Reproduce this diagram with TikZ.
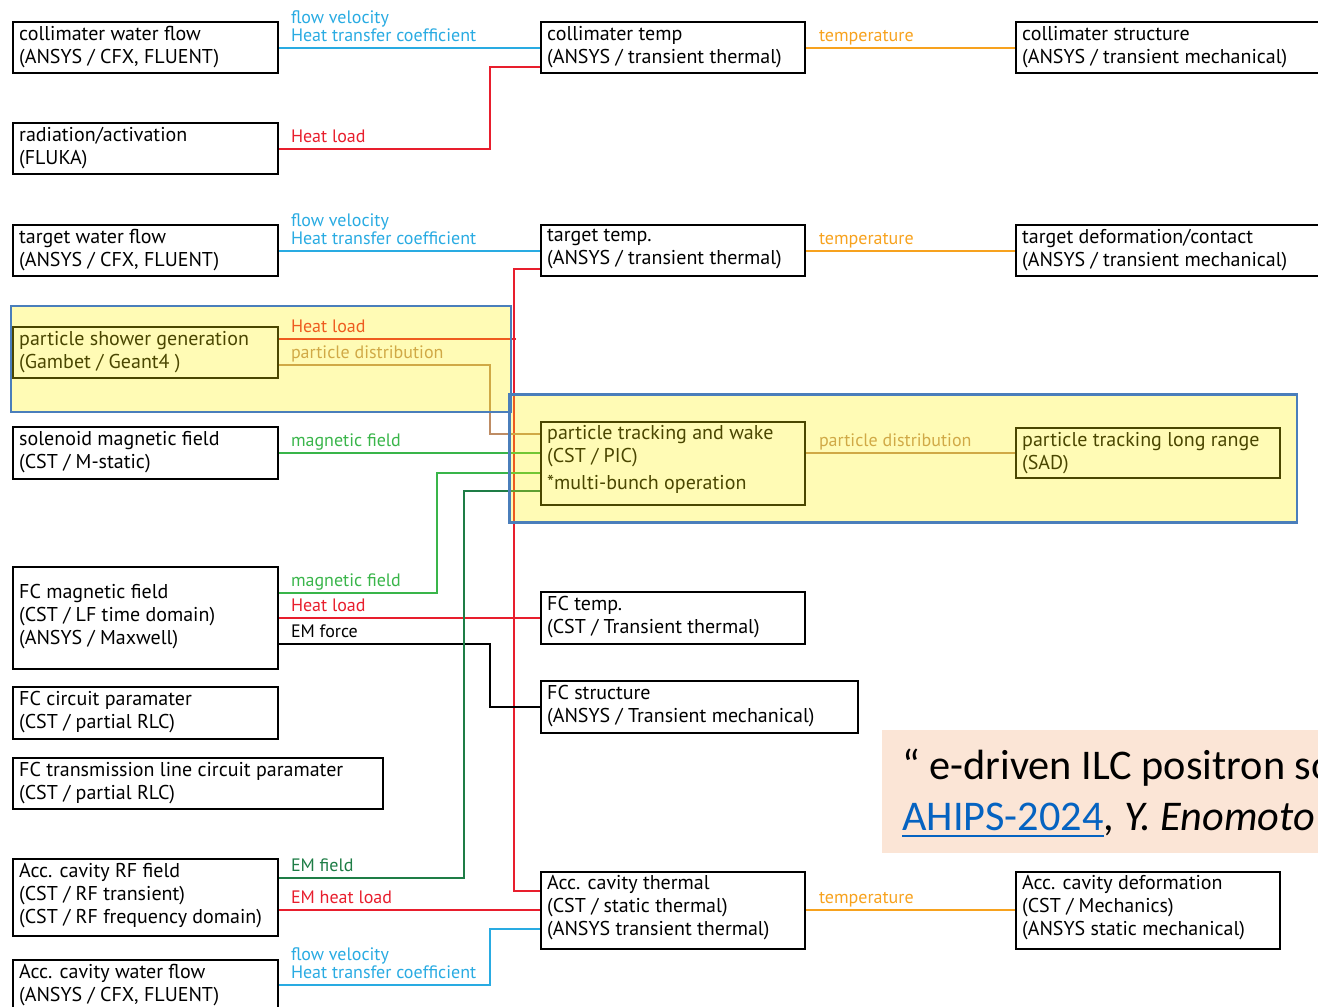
\documentclass[tikz,border=0pt]{standalone}
\usepackage{fontspec}
\setmainfont{PT Sans}
\newfontfamily\calibfont{Carlito}
\usetikzlibrary{calc}
\definecolor{cblue}{RGB}{41,171,226}
\definecolor{cred}{RGB}{232,30,45}
\definecolor{corange}{RGB}{247,162,30}
\definecolor{cgreen}{RGB}{57,181,74}
\definecolor{cdgreen}{RGB}{30,125,70}
\definecolor{cbrown}{RGB}{190,140,100}
\definecolor{cgroup}{RGB}{74,126,187}
\definecolor{cite}{RGB}{251,229,214}
\definecolor{clink}{RGB}{5,99,193}
\newcommand\bxfont{\fontsize{20}{23}\selectfont}
\newcommand\lbfont{\fontsize{18}{19}\selectfont}
\newcommand\citfont{\calibfont\fontsize{42.3}{50}\selectfont}
\begin{document}
\begin{tikzpicture}[x=1pt,y=-1pt,
  box/.style={draw=black, line width=2pt, rectangle, anchor=north west, inner sep=0pt},
  bt/.style={anchor=north west, inner sep=0pt, align=left, font=\bxfont, execute at begin node=\strut},
  conn/.style={line width=2pt},
  lb/.style={anchor=base west, inner sep=0pt, font=\lbfont, xshift=11pt, yshift=6.5pt},
  grp/.style={draw=cgroup, line width=2.4pt},
  ]
\useasboundingbox (0,0) rectangle (1318,1007);
\clip (0,0) rectangle (1318,1007);
% ---------- boxes ----------
\node[box, minimum width=265pt, minimum height=51pt] (cwf) at (12,21) {};
\node[box, minimum width=265pt, minimum height=51pt] (rad) at (12,122) {};
\node[box, minimum width=265pt, minimum height=51pt] (twf) at (12,224) {};
\node[box, minimum width=265pt, minimum height=51pt] (psg) at (12,326) {};
\node[box, minimum width=265pt, minimum height=52pt] (sol) at (12,426) {};
\node[box, minimum width=265pt, minimum height=102pt] (fcm) at (12,566) {};
\node[box, minimum width=265pt, minimum height=52pt] (fcc) at (12,686) {};
\node[box, minimum width=370pt, minimum height=51pt] (fct) at (12,757) {};
\node[box, minimum width=265pt, minimum height=77pt] (acrf) at (12,858) {};
\node[box, minimum width=265pt, minimum height=60pt] (acw) at (12,959) {};
\node[box, minimum width=264pt, minimum height=51pt] (ct) at (540,21) {};
\node[box, minimum width=264pt, minimum height=51pt] (tt) at (540,224) {};
\node[box, minimum width=264pt, minimum height=83pt] (ptw) at (540,420.5) {};
\node[box, minimum width=264pt, minimum height=52pt] (fctemp) at (540,591) {};
\node[box, minimum width=317pt, minimum height=52pt] (fcs) at (540,680) {};
\node[box, minimum width=264pt, minimum height=77pt] (act) at (540,870.5) {};
\node[box, minimum width=320pt, minimum height=51pt] (cs) at (1015,21) {};
\node[box, minimum width=320pt, minimum height=51pt] (td) at (1015,224) {};
\node[box, minimum width=264pt, minimum height=50pt] (lr) at (1015,427) {};
\node[box, minimum width=264pt, minimum height=77pt] (acd) at (1015,870.5) {};
% ---------- box texts ----------
\node[bt] (cwf-t) at ($(cwf.north west)+(7,5)$) {collimater water flow\\(ANSYS / CFX, FLUENT)};
\node[bt] (rad-t) at ($(rad.north west)+(7,5)$) {radiation/activation\\(FLUKA)};
\node[bt] (twf-t) at ($(twf.north west)+(7,5)$) {target water flow\\(ANSYS / CFX, FLUENT)};
\node[bt] (psg-t) at ($(psg.north west)+(7,5)$) {particle shower generation\\(Gambet / Geant4 )};
\node[bt] (sol-t) at ($(sol.north west)+(7,5)$) {solenoid magnetic field\\(CST / M-static)};
\node[bt] (fcm-t) at ($(fcm.north west)+(7,18)$) {FC magnetic field\\(CST / LF time domain)\\(ANSYS / Maxwell)};
\node[bt] (fcc-t) at ($(fcc.north west)+(7,5)$) {FC circuit paramater\\(CST / partial RLC)};
\node[bt] (fct-t) at ($(fct.north west)+(7,5)$) {FC transmission line circuit paramater\\(CST / partial RLC)};
\node[bt] (acrf-t) at ($(acrf.north west)+(7,5)$) {Acc. cavity RF field\\(CST / RF transient)\\(CST / RF frequency domain)};
\node[bt] (acw-t) at ($(acw.north west)+(7,5)$) {Acc. cavity water flow\\(ANSYS / CFX, FLUENT)};
\node[bt] (ct-t) at ($(ct.north west)+(7,5)$) {collimater temp\\(ANSYS / transient thermal)};
\node[bt] (tt-t) at ($(tt.north west)+(7,5)$) {target temp.\\(ANSYS / transient thermal)};
\node[bt] (ptw-t) at ($(ptw.north west)+(7,5)$) {particle tracking and wake\\(CST / PIC)\\[4pt]*multi-bunch operation};
\node[bt] (fctemp-t) at ($(fctemp.north west)+(7,5)$) {FC temp.\\(CST / Transient thermal)};
\node[bt] (fcs-t) at ($(fcs.north west)+(7,5)$) {FC structure\\(ANSYS / Transient mechanical)};
\node[bt] (act-t) at ($(act.north west)+(7,5)$) {Acc. cavity thermal\\(CST / static thermal)\\(ANSYS transient thermal)};
\node[bt] (cs-t) at ($(cs.north west)+(7,5)$) {collimater structure\\(ANSYS / transient mechanical)};
\node[bt] (td-t) at ($(td.north west)+(7,5)$) {target deformation/contact\\(ANSYS / transient mechanical)};
\node[bt] (lr-t) at ($(lr.north west)+(7,5)$) {particle tracking long range\\(SAD)};
\node[bt] (acd-t) at ($(acd.north west)+(7,5)$) {Acc. cavity deformation\\(CST / Mechanics)\\(ANSYS static mechanical)};
% ---------- connectors ----------
\draw[conn, cblue] (cwf.east) node[lb, yshift=18pt] {flow velocity} node[lb] {Heat transfer coefficient} -- (ct.west);
\draw[conn, cred] (rad.east) node[lb] {Heat load} -- ++(211,0) |- ($(ct.west)+(0,19.5)$);
\draw[conn, corange] (ct.east) node[lb, xshift=1pt] {temperature} -- (cs.west);
\draw[conn, cblue] (twf.east) node[lb, yshift=18pt] {flow velocity} node[lb] {Heat transfer coefficient} -- (tt.west);
\draw[conn, corange] (tt.east) node[lb, xshift=1pt] {temperature} -- (td.west);
\draw[conn, cred] ($(tt.west)+(0,18.5)$) -- ++(-26.5,0) |- ($(act.west)+(0,-19)$);
\draw[conn, cred] ($(psg.east)+(0,-13.5)$) node[lb] {Heat load} -- ++(236.5,0);
\draw[conn, cbrown] ($(psg.east)+(0,12)$) node[lb] {particle distribution} -- ++(210.5,0) |- ($(ptw.west)+(0,-28.7)$);
\draw[conn, cgreen] (sol.east) node[lb] {magnetic field} -- ($(ptw.west)+(0,-10)$);
\draw[conn, cgreen] ($(fcm.east)+(0,-25.3)$) node[lb] {magnetic field} -- ++(158,0) |- ($(ptw.west)+(0,9.7)$);
\draw[conn, cred] (fcm.east) node[lb] {Heat load} -- (fctemp.west);
\draw[conn, black] ($(fcm.east)+(0,25.7)$) node[lb] {EM force} -- ++(210.5,0) |- (fcs.west);
\draw[conn, cdgreen] ($(acrf.east)+(0,-19.5)$) node[lb] {EM field} -- ++(184.5,0) |- ($(ptw.west)+(0,28.3)$);
\draw[conn, cred] ($(acrf.east)+(0,12.5)$) node[lb] {EM heat load} -- (act.west);
\draw[conn, cblue] ($(acw.east)+(0,-5)$) node[lb, yshift=18pt] {flow velocity} node[lb] {Heat transfer coefficient} -- ++(211,0) |- ($(act.west)+(0,19)$);
\draw[conn, cbrown] ($(ptw.east)+(0,-10)$) node[lb, xshift=1pt] {particle distribution} -- (lr.west);
\draw[conn, corange] (act.east) node[lb, xshift=1pt] {temperature} -- (acd.west);
% ---------- groups ----------
\fill[yellow, opacity=0.29] (10.7,305.7) rectangle (510.7,411.7);
\fill[yellow, opacity=0.29] (509.6,394.3) rectangle (1296.7,522.3);
\draw[grp] (10.7,305.7) rectangle (510.7,411.7);
\draw[grp] (509.6,394.3) rectangle (1296.7,522.3);
% ---------- citation ----------
\fill[cite] (881.8,730) rectangle (1330,852.7);
\node[anchor=base west, inner sep=0pt, font=\citfont] (cit1) at (902,779) {“ e-driven ILC positron source};
\node[anchor=base west, inner sep=0pt, font=\citfont, text=clink] (cit2) at (902,830) {AHIPS-2024};
\draw[clink, line width=2.4pt] ($(cit2.base west)+(0,6)$) -- ($(cit2.base east)+(0,6)$);
\node[anchor=base west, inner sep=0pt, font=\citfont] (cit3) at (cit2.base east) {, \textit{Y. Enomoto}};
\end{tikzpicture}
\end{document}
